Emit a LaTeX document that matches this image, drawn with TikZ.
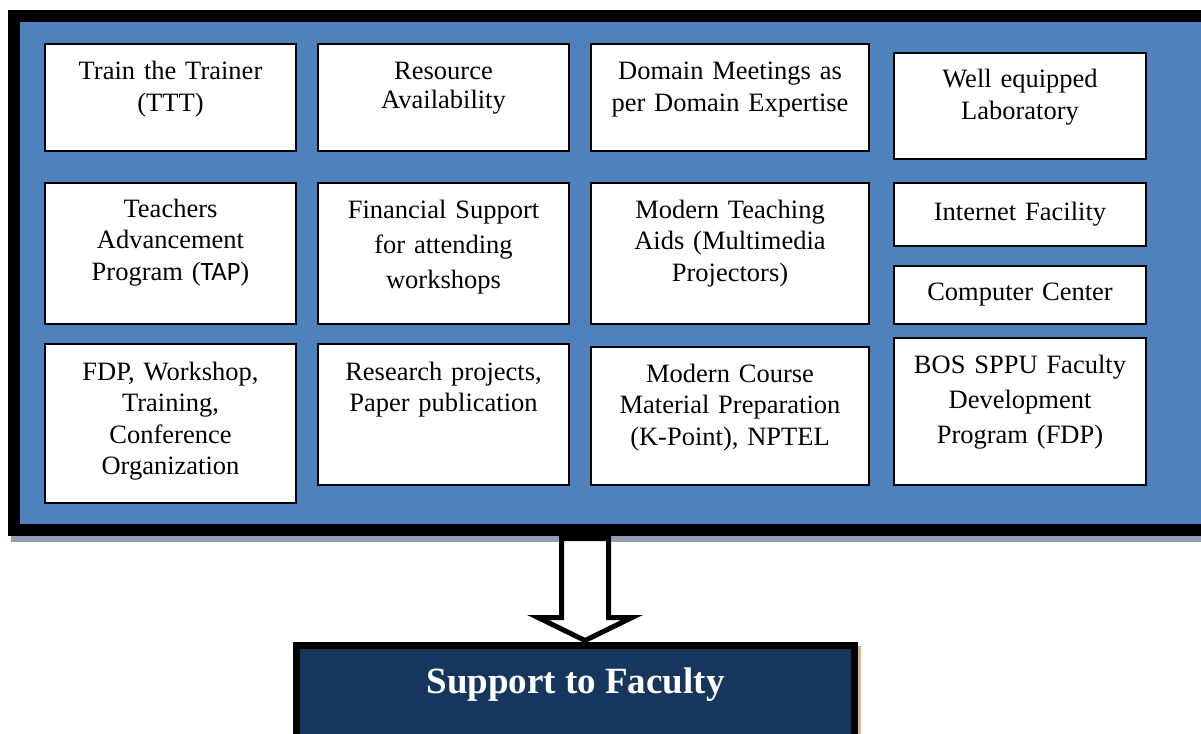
\documentclass[tikz,border=0pt]{standalone}
\usepackage{fontspec}
\setmainfont{Liberation Serif}
\newfontfamily\tapfont{Carlito}
\usepackage{tikz}
\usetikzlibrary{calc,positioning}
\definecolor{panelblue}{HTML}{4F81BD}
\definecolor{navy}{HTML}{17365D}
\definecolor{shadowgrey}{HTML}{8F9EB0}
\definecolor{shadowtan}{HTML}{DEB28C}
\newcommand\cellfont{\fontsize{26.5}{31.5}\selectfont}
\tikzstyle{cell} = [draw, fill=white, line width=1.8pt, inner sep=0pt, outer sep=0pt, anchor=north west, align=center, font=\cellfont]
\tikzstyle{panel} = [draw=black, fill=panelblue, line width=12pt, inner sep=0pt, outer sep=0pt, anchor=north west, minimum width=1200pt, minimum height=514pt]
\tikzstyle{supportbox} = [draw=black, fill=navy, text=white, line width=7pt, inner sep=0pt, outer sep=0pt, anchor=north, minimum width=558pt, text height=47.5pt, text depth=55pt, font=\fontsize{37}{44}\selectfont\bfseries]
\tikzstyle{blockarrow} = [draw=black, fill=white, line width=5pt, line join=miter]

\begin{document}
\begin{tikzpicture}[x=1pt, y=-1pt]
        \useasboundingbox (0,0) rectangle (1201,733);
        \fill[shadowgrey] (11,530) rectangle (1230,542);
        \node (panel) [panel] at (14,16) {};

        \node (ttt) [cell, text width=251pt, text height=36pt, text depth=71pt] at (45,44) {Train the Trainer\\(TTT)};
        \node (resource) [cell, text width=251pt, text height=36pt, text depth=71pt, font=\fontsize{26.5}{29}\selectfont] at (318,44) {Resource\\Availability};
        \node (domain) [cell, text width=278pt, text height=36pt, text depth=71pt] at (591,44) {Domain Meetings as\\per Domain Expertise};
        \node (lab) [cell, text width=252pt, text height=35pt, text depth=71pt] at (894,53) {Well equipped\\Laboratory};

        \node (tap) [cell, text width=251pt, text height=34pt, text depth=107pt] at (45,183) {Teachers\\Advancement\\Program ({\tapfont TAP})};
        \node (finance) [cell, text width=251pt, text height=35pt, text depth=106pt, font=\fontsize{26.5}{35}\selectfont] at (318,183) {Financial Support\\for attending\\workshops};
        \node (aids) [cell, text width=278pt, text height=35pt, text depth=106pt] at (591,183) {Modern Teaching\\Aids (Multimedia\\Projectors)};
        \node (internet) [cell, text width=252pt, text height=37pt, text depth=26pt] at (894,183) {Internet Facility};
        \node (computer) [cell, text width=252pt, text height=34pt, text depth=24pt] at (894,266) {Computer Center};

        \node (fdp) [cell, text width=251pt, text height=36pt, text depth=123pt] at (45,344) {FDP, Workshop,\\Training,\\Conference\\Organization};
        \node (research) [cell, text width=251pt, text height=36pt, text depth=105pt] at (318,344) {Research projects,\\Paper publication};
        \node (course) [cell, text width=278pt, text height=35pt, text depth=103pt] at (591,347) {Modern Course\\Material Preparation\\(K-Point), NPTEL};
        \node (bos) [cell, text width=252pt, text height=35pt, text depth=112pt, font=\fontsize{26.5}{35}\selectfont] at (894,338) {BOS SPPU Faculty\\Development\\Program (FDP)};

        \fill[shadowtan] (850,646) rectangle (861,760);
        \node (support) [supportbox] at (575.5,645.5) {Support to Faculty};

        \coordinate (ax) at (585,0);
        \coordinate (atop) at ([yshift=-8.5pt]panel.south);
        \coordinate (astart) at (atop -| ax);
        \coordinate (sup) at ([yshift=5pt]support.north);
        \coordinate (atip) at (sup -| ax);
        \draw [blockarrow] (astart) ++(-23.5,0) -- ++(0,79) -- ++(-23.5,0) -- (atip) -- ++(47,-23) -- ++(-23.5,0) -- ++(0,-79) -- cycle;
    \end{tikzpicture}
\end{document}
